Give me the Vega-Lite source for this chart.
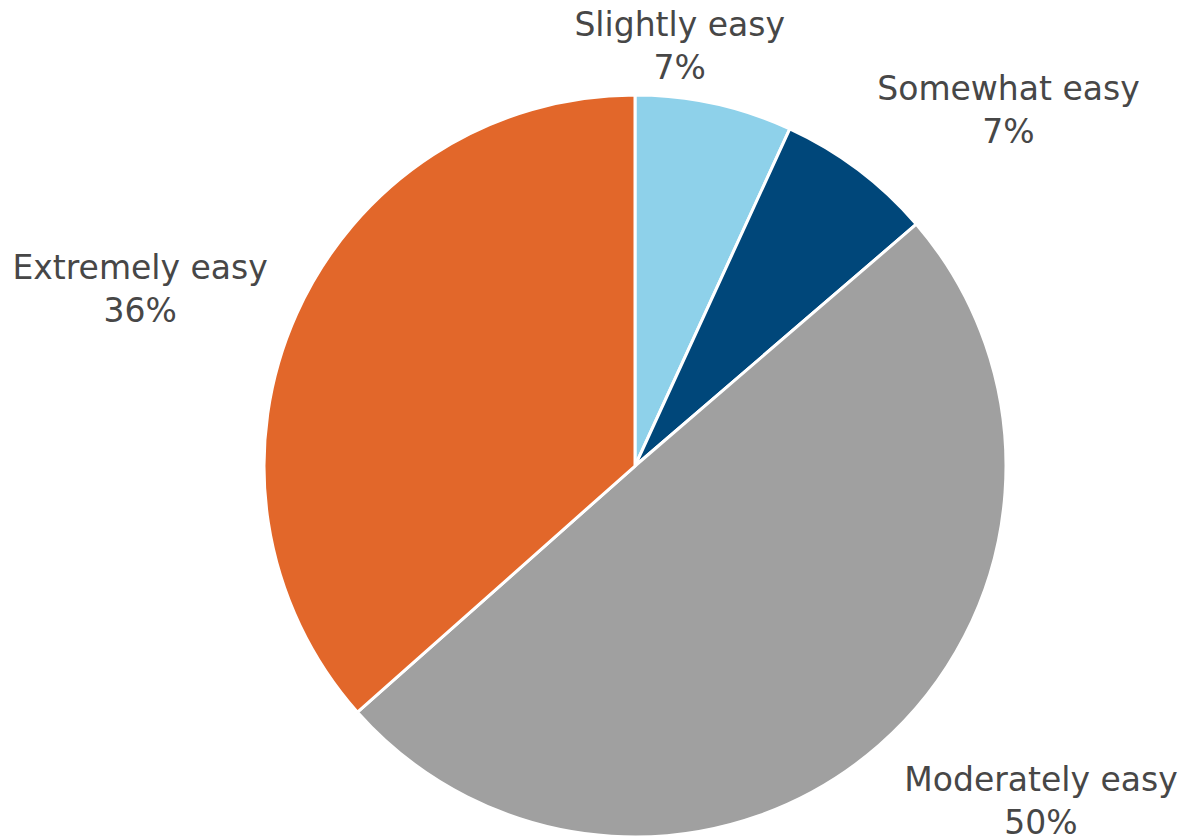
{
  "$schema": "https://vega.github.io/schema/vega-lite/v6.json",
  "autosize": "none",
  "width": 1090,
  "height": 744,
  "padding": {"left": 90, "top": 94, "right": 0, "bottom": 0},
  "background": "white",
  "config": {"view": {"stroke": null}},
  "data": {
    "values": [
      {"category": "Slightly easy", "pct": "7%", "value": 6.85, "rank": 1},
      {"category": "Somewhat easy", "pct": "7%", "value": 6.85, "rank": 2},
      {"category": "Moderately easy", "pct": "50%", "value": 49.75, "rank": 3},
      {"category": "Extremely easy", "pct": "36%", "value": 36.55, "rank": 4}
    ]
  },
  "transform": [
    {"calculate": "datum.category + '\\n' + datum.pct", "as": "lbl"}
  ],
  "encoding": {
    "theta": {"field": "value", "type": "quantitative", "stack": true},
    "order": {"field": "rank", "type": "quantitative"}
  },
  "layer": [
    {
      "mark": {"type": "arc", "outerRadius": 371, "stroke": "white", "strokeWidth": 3},
      "encoding": {
        "color": {
          "field": "category",
          "type": "nominal",
          "scale": {
            "domain": ["Slightly easy", "Somewhat easy", "Moderately easy", "Extremely easy"],
            "range": ["#8ED1EA", "#00477A", "#A0A0A0", "#E2672A"]
          },
          "legend": null
        }
      }
    },
    {
      "mark": {"type": "text", "radius": 420, "dx": -45, "dy": -30, "lineBreak": "\n", "font": "DejaVu Sans", "fontSize": 33, "lineHeight": 43, "color": "#474747", "baseline": "middle", "align": "center"},
      "encoding": {
        "text": {"field": "lbl"},
        "opacity": {"condition": {"test": "datum.category === 'Slightly easy'", "value": 1}, "value": 0}
      }
    },
    {
      "mark": {"type": "text", "radius": 511, "dx": 66, "dy": 32, "lineBreak": "\n", "font": "DejaVu Sans", "fontSize": 33, "lineHeight": 43, "color": "#474747", "baseline": "middle", "align": "center"},
      "encoding": {
        "text": {"field": "lbl"},
        "opacity": {"condition": {"test": "datum.category === 'Somewhat easy'", "value": 1}, "value": 0}
      }
    },
    {
      "mark": {"type": "text", "radius": 450, "dx": 110, "dy": -24, "lineBreak": "\n", "font": "DejaVu Sans", "fontSize": 33, "lineHeight": 43, "color": "#474747", "baseline": "middle", "align": "center"},
      "encoding": {
        "text": {"field": "lbl"},
        "opacity": {"condition": {"test": "datum.category === 'Moderately easy'", "value": 1}, "value": 0}
      }
    },
    {
      "mark": {"type": "text", "radius": 524, "dx": -17, "dy": 18, "lineBreak": "\n", "font": "DejaVu Sans", "fontSize": 33, "lineHeight": 43, "color": "#474747", "baseline": "middle", "align": "center"},
      "encoding": {
        "text": {"field": "lbl"},
        "opacity": {"condition": {"test": "datum.category === 'Extremely easy'", "value": 1}, "value": 0}
      }
    }
  ]
}
